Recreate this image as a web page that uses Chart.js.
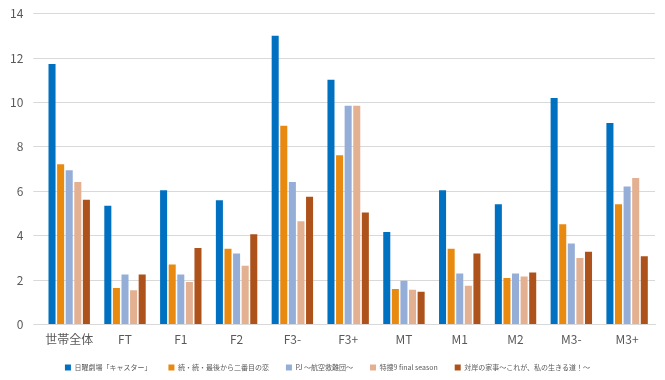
<!DOCTYPE html>
<html>
<head>
<meta charset="utf-8">
<script src="https://cdn.jsdelivr.net/npm/chart.js@4/dist/chart.umd.min.js"></script>
<style>
  html, body { margin: 0; padding: 0; background: #fff; }
  #wrap { width: 665px; height: 380px; }
</style>
</head>
<body>
<div id="wrap"><canvas id="chart" width="665" height="380"></canvas></div>
<script>
// categories along the x axis
const categories = ['世帯全体', 'FT', 'F1', 'F2', 'F3-', 'F3+', 'MT', 'M1', 'M2', 'M3-', 'M3+'];

// one array per programme
const caster   = [11.73, 5.35, 6.05, 5.6, 13.0, 11.02, 4.17, 6.05, 5.42, 10.2, 9.08];
const saigo    = [7.22, 1.65, 2.7, 3.42, 8.95, 7.62, 1.6, 3.42, 2.1, 4.52, 5.42];
const pj       = [6.95, 2.25, 2.25, 3.2, 6.42, 9.85, 1.97, 2.3, 2.3, 3.65, 6.22];
const tokuso   = [6.42, 1.55, 1.92, 2.65, 4.65, 9.85, 1.57, 1.75, 2.17, 3.0, 6.6];
const taigan   = [5.62, 2.25, 3.45, 4.07, 5.75, 5.05, 1.48, 3.2, 2.35, 3.28, 3.08];

const seriesNames = [
    '日曜劇場「キャスター」',
    '続・続・最後から二番目の恋',
    'PJ ～航空救難団～',
    '特捜9 final season',
    '対岸の家事～これが、私の生きる道！～'
];
const seriesColors = ['#0070C0', '#E98A10', '#95AED8', '#E3B091', '#AE521C'];

// y axis ticks
const yMin = 0;
const yMax = 14;
const yStep = 2;

const fontFamily = '"Noto Sans CJK JP", "Noto Sans", sans-serif';

const allSeries = [caster, saigo, pj, tokuso, taigan];

const ctx = document.getElementById('chart');
new Chart(ctx, {
    type: 'bar',
    data: {
        labels: categories,
        datasets: allSeries.map((values, i) => ({
            label: seriesNames[i],
            data: values,
            backgroundColor: seriesColors[i],
            borderWidth: 0,
            categoryPercentage: 0.77,
            barPercentage: 0.82
        }))
    },
    options: {
        responsive: false,
        animation: false,
        layout: {
            // negative bottom padding lets the legend sit lower, like the original
            padding: { left: 0, right: 10, top: 4, bottom: -1 }
        },
        scales: {
            x: {
                grid: { display: false },
                border: { color: '#D9D9D9' },
                ticks: {
                    color: '#595959',
                    font: { family: fontFamily, size: 12 },
                    padding: 0
                }
            },
            y: {
                min: yMin,
                max: yMax,
                grid: { color: '#D9D9D9' },
                border: { display: false },
                ticks: {
                    stepSize: yStep,
                    color: '#595959',
                    font: { family: fontFamily, size: 12, lineHeight: 0.6 },
                    padding: 10
                }
            }
        },
        plugins: {
            legend: {
                display: true,
                position: 'bottom',
                labels: {
                    boxWidth: 6,
                    boxHeight: 6,
                    padding: 17,
                    color: '#595959',
                    font: { family: fontFamily, size: 7 }
                }
            },
            tooltip: { enabled: false }
        }
    }
});
</script>
</body>
</html>
